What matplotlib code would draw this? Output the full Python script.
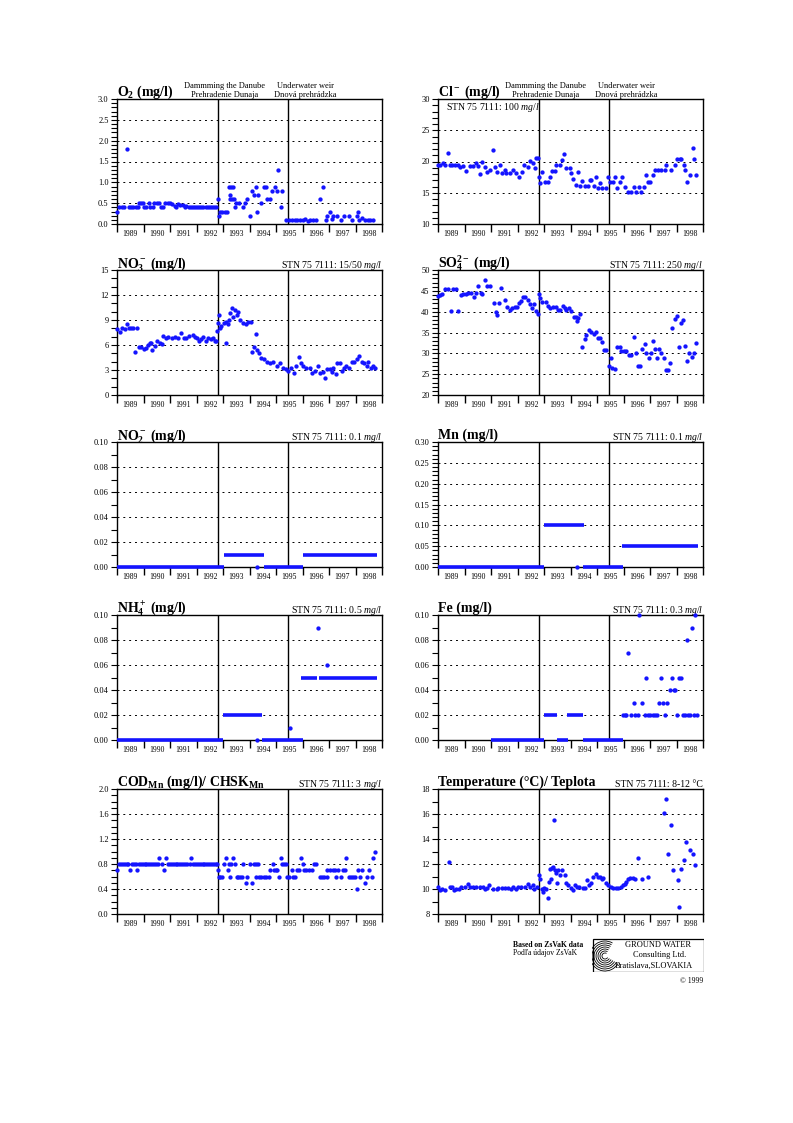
import matplotlib
matplotlib.use("Agg")
import matplotlib.pyplot as plt
from matplotlib.ticker import MultipleLocator, FormatStrFormatter, FixedLocator, FixedFormatter, NullFormatter
from matplotlib.patches import Rectangle, Arc
import matplotlib.transforms as mtransforms

plt.rcParams['font.family'] = ['Liberation Serif', 'DejaVu Serif']
plt.rcParams['mathtext.fontset'] = 'custom'
plt.rcParams['mathtext.default'] = 'regular'
plt.rcParams['mathtext.rm'] = 'Liberation Serif'
plt.rcParams['mathtext.it'] = 'Liberation Serif:italic'

BLUE = '#1414ff'

# ---- data -------------------------------------------------------------
years = [1989, 1990, 1991, 1992, 1993, 1994, 1995, 1996, 1997, 1998]
dam_date = 1992.81
weir_date = 1995.46

o2_t = [1989.00, 1989.09, 1989.19, 1989.28, 1989.38, 1989.44, 1989.53, 1989.62, 1989.71, 1989.78,
        1989.84, 1989.91, 1989.97, 1990.03, 1990.10, 1990.19, 1990.25, 1990.35, 1990.41, 1990.50,
        1990.60, 1990.66, 1990.73, 1990.83, 1990.92, 1991.00, 1991.08, 1991.17, 1991.23, 1991.30,
        1991.38, 1991.48, 1991.55, 1991.62, 1991.70, 1991.78, 1991.86, 1991.94, 1992.02, 1992.10,
        1992.18, 1992.26, 1992.34, 1992.42, 1992.50, 1992.58, 1992.66, 1992.74, 1992.81, 1992.85,
        1992.90, 1992.97, 1993.06, 1993.15, 1993.21, 1993.25, 1993.27, 1993.31, 1993.35, 1993.39,
        1993.40, 1993.44, 1993.50, 1993.59, 1993.75, 1993.84, 1993.92, 1994.03, 1994.09, 1994.17,
        1994.26, 1994.27, 1994.32, 1994.45, 1994.54, 1994.61, 1994.67, 1994.76, 1994.85, 1994.95,
        1995.02, 1995.09, 1995.17, 1995.24, 1995.39, 1995.49, 1995.60, 1995.70, 1995.80, 1995.90,
        1996.00, 1996.09, 1996.22, 1996.30, 1996.40, 1996.50, 1996.65, 1996.78, 1996.87, 1996.93,
        1997.03, 1997.10, 1997.16, 1997.31, 1997.44, 1997.58, 1997.76, 1997.85, 1998.04, 1998.10,
        1998.15, 1998.25, 1998.34, 1998.46, 1998.55, 1998.65]
o2_v = [0.30, 0.40, 0.40, 0.40, 1.80, 0.40, 0.40, 0.40, 0.40, 0.40,
        0.50, 0.50, 0.50, 0.40, 0.40, 0.50, 0.40, 0.40, 0.50, 0.50,
        0.50, 0.40, 0.40, 0.50, 0.50, 0.50, 0.47, 0.43, 0.40, 0.47,
        0.45, 0.45, 0.42, 0.43, 0.41, 0.42, 0.42, 0.41, 0.42, 0.40,
        0.42, 0.41, 0.40, 0.42, 0.41, 0.42, 0.41, 0.42, 0.60, 0.20,
        0.30, 0.30, 0.30, 0.30, 0.90, 0.70, 0.60, 0.90, 0.60, 0.90,
        0.60, 0.40, 0.50, 0.50, 0.40, 0.50, 0.60, 0.20, 0.80, 0.70,
        0.90, 0.30, 0.70, 0.50, 0.90, 0.90, 0.60, 0.60, 0.80, 0.90,
        0.80, 1.30, 0.40, 0.80, 0.10, 0.10, 0.10, 0.10, 0.10, 0.10,
        0.10, 0.13, 0.07, 0.10, 0.10, 0.10, 0.60, 0.90, 0.10, 0.20,
        0.30, 0.12, 0.20, 0.20, 0.10, 0.20, 0.20, 0.10, 0.20, 0.30,
        0.10, 0.15, 0.10, 0.10, 0.10, 0.10]

cl_t = [1989.00, 1989.09, 1989.19, 1989.25, 1989.38, 1989.44, 1989.54, 1989.65, 1989.75, 1989.82,
        1989.94, 1990.07, 1990.19, 1990.32, 1990.42, 1990.51, 1990.60, 1990.67, 1990.76, 1990.85,
        1990.95, 1991.09, 1991.16, 1991.23, 1991.33, 1991.40, 1991.53, 1991.58, 1991.70, 1991.83,
        1991.96, 1992.06, 1992.16, 1992.23, 1992.38, 1992.48, 1992.58, 1992.66, 1992.71, 1992.77,
        1992.81, 1992.84, 1992.94, 1993.04, 1993.16, 1993.21, 1993.31, 1993.42, 1993.47, 1993.59,
        1993.67, 1993.74, 1993.84, 1993.97, 1994.03, 1994.09, 1994.19, 1994.28, 1994.35, 1994.45,
        1994.53, 1994.66, 1994.72, 1994.79, 1994.87, 1994.95, 1995.04, 1995.10, 1995.20, 1995.33,
        1995.42, 1995.50, 1995.60, 1995.67, 1995.75, 1995.86, 1995.96, 1996.04, 1996.17, 1996.30,
        1996.40, 1996.48, 1996.58, 1996.67, 1996.76, 1996.84, 1996.92, 1997.01, 1997.11, 1997.18,
        1997.30, 1997.43, 1997.55, 1997.62, 1997.81, 1997.93, 1998.02, 1998.12, 1998.18, 1998.27,
        1998.33, 1998.40, 1998.50, 1998.62, 1998.67, 1998.75]
cl_v = [19.5, 19.5, 19.7, 19.5, 21.3, 19.5, 19.5, 19.5, 19.5, 19.2,
        19.3, 18.5, 19.3, 19.3, 19.8, 19.3, 18.0, 20.0, 19.1, 18.4,
        18.7, 21.9, 19.1, 18.4, 19.5, 18.1, 18.6, 18.1, 18.1, 18.6,
        18.1, 17.5, 18.4, 19.4, 19.2, 20.1, 19.7, 19.0, 20.6, 20.5,
        17.5, 16.6, 18.4, 16.7, 16.7, 17.6, 18.5, 18.5, 19.5, 19.4,
        20.2, 21.2, 18.9, 18.9, 18.1, 17.2, 16.3, 18.4, 16.1, 16.9,
        16.1, 16.1, 17.0, 17.0, 16.1, 17.5, 15.7, 16.5, 15.7, 15.7,
        17.6, 16.8, 16.8, 17.6, 15.8, 16.8, 17.6, 16.0, 15.2, 15.2,
        16.0, 15.2, 16.0, 15.2, 16.0, 17.8, 16.8, 16.8, 17.8, 18.6,
        18.6, 18.6, 18.6, 19.5, 18.6, 19.5, 20.4, 20.4, 20.4, 19.5,
        18.6, 16.8, 17.8, 22.2, 20.4, 17.8]

no3_t = [1989.00, 1989.10, 1989.20, 1989.29, 1989.39, 1989.45, 1989.53, 1989.60, 1989.69, 1989.76,
         1989.82, 1989.92, 1990.01, 1990.08, 1990.17, 1990.23, 1990.30, 1990.33, 1990.42, 1990.51,
         1990.61, 1990.70, 1990.74, 1990.84, 1990.93, 1991.09, 1991.18, 1991.30, 1991.41, 1991.52,
         1991.59, 1991.72, 1991.85, 1991.93, 1992.02, 1992.10, 1992.16, 1992.25, 1992.35, 1992.44,
         1992.53, 1992.63, 1992.69, 1992.75, 1992.79, 1992.82, 1992.85, 1992.88, 1992.94, 1993.03,
         1993.11, 1993.13, 1993.19, 1993.23, 1993.28, 1993.35, 1993.38, 1993.45, 1993.51, 1993.57,
         1993.63, 1993.76, 1993.86, 1993.95, 1994.04, 1994.11, 1994.18, 1994.26, 1994.29, 1994.34,
         1994.45, 1994.55, 1994.67, 1994.77, 1994.89, 1995.02, 1995.15, 1995.25, 1995.37, 1995.46,
         1995.55, 1995.68, 1995.75, 1995.85, 1995.93, 1996.03, 1996.15, 1996.28, 1996.37, 1996.47,
         1996.57, 1996.66, 1996.76, 1996.86, 1996.93, 1997.04, 1997.10, 1997.16, 1997.26, 1997.31,
         1997.41, 1997.50, 1997.56, 1997.66, 1997.77, 1997.85, 1997.94, 1998.04, 1998.13, 1998.23,
         1998.32, 1998.42, 1998.48, 1998.57, 1998.65, 1998.74]
no3_v = [7.9, 7.6, 8.1, 7.9, 8.5, 8.1, 8.1, 8.1, 5.2, 8.1,
         5.8, 5.8, 5.5, 5.7, 6.0, 6.2, 6.3, 5.4, 5.9, 6.5,
         6.3, 6.1, 7.1, 6.9, 7.0, 6.9, 7.0, 6.9, 7.4, 6.9,
         6.9, 7.1, 7.2, 7.0, 6.8, 6.5, 6.7, 7.0, 6.5, 6.8,
         6.7, 6.8, 6.5, 6.5, 7.7, 8.6, 9.6, 8.0, 8.3, 8.6,
         6.2, 8.8, 8.5, 9.0, 9.8, 10.4, 9.4, 10.2, 9.6, 10.0,
         9.0, 8.6, 8.5, 8.8, 8.8, 5.2, 5.8, 7.3, 5.4, 5.1,
         4.4, 4.3, 4.0, 3.9, 4.0, 3.5, 3.9, 3.3, 3.1, 2.9,
         3.3, 2.7, 3.5, 4.6, 3.9, 3.5, 3.3, 3.3, 2.7, 2.9,
         3.5, 2.7, 2.8, 2.0, 3.1, 3.1, 2.8, 3.3, 2.5, 3.8,
         3.9, 2.9, 3.3, 3.5, 3.3, 4.0, 4.0, 4.3, 4.7, 4.0,
         3.8, 3.5, 4.0, 3.3, 3.5, 3.3]

so4_t = [1989.00, 1989.09, 1989.16, 1989.25, 1989.38, 1989.50, 1989.57, 1989.69, 1989.75, 1989.86,
         1989.94, 1990.04, 1990.13, 1990.26, 1990.35, 1990.45, 1990.52, 1990.61, 1990.67, 1990.76,
         1990.85, 1990.95, 1991.10, 1991.18, 1991.23, 1991.30, 1991.39, 1991.53, 1991.60, 1991.70,
         1991.81, 1991.89, 1991.98, 1992.06, 1992.13, 1992.21, 1992.30, 1992.40, 1992.48, 1992.56,
         1992.64, 1992.71, 1992.79, 1992.81, 1992.84, 1992.94, 1993.06, 1993.15, 1993.24, 1993.34,
         1993.44, 1993.53, 1993.62, 1993.72, 1993.78, 1993.84, 1993.94, 1994.03, 1994.12, 1994.19,
         1994.25, 1994.28, 1994.35, 1994.45, 1994.53, 1994.60, 1994.69, 1994.79, 1994.89, 1994.97,
         1995.04, 1995.13, 1995.19, 1995.26, 1995.35, 1995.44, 1995.52, 1995.58, 1995.67, 1995.75,
         1995.86, 1995.92, 1996.01, 1996.11, 1996.21, 1996.30, 1996.38, 1996.46, 1996.55, 1996.61,
         1996.70, 1996.80, 1996.86, 1996.95, 1997.05, 1997.11, 1997.18, 1997.26, 1997.34, 1997.43,
         1997.52, 1997.59, 1997.68, 1997.77, 1997.84, 1997.93, 1998.02, 1998.08, 1998.16, 1998.25,
         1998.33, 1998.41, 1998.47, 1998.60, 1998.67, 1998.75]
so4_v = [43.8, 44.0, 44.2, 45.4, 45.4, 40.2, 45.4, 45.4, 40.2, 44.0,
         44.2, 44.2, 44.6, 44.6, 43.6, 44.6, 46.2, 44.6, 44.2, 47.6,
         46.2, 46.2, 42.0, 40.0, 39.2, 42.2, 45.8, 42.8, 41.2, 40.4,
         41.0, 41.2, 41.2, 42.0, 42.6, 43.6, 43.6, 42.8, 41.8, 41.0,
         41.8, 40.2, 39.4, 44.2, 43.4, 42.4, 42.4, 41.4, 41.0, 41.2,
         41.2, 40.4, 40.4, 41.4, 40.8, 40.4, 41.0, 40.2, 38.8, 38.8,
         37.8, 38.4, 39.4, 31.6, 33.4, 34.4, 35.6, 35.2, 34.6, 35.2,
         33.8, 33.8, 32.8, 30.8, 30.8, 27.0, 29.0, 26.6, 26.2, 31.6,
         31.6, 30.6, 30.6, 30.6, 29.6, 29.6, 34.0, 30.2, 27.0, 27.0,
         31.0, 32.2, 30.0, 29.0, 30.0, 33.0, 31.0, 29.0, 31.0, 30.2,
         28.8, 26.0, 26.0, 27.8, 36.2, 38.2, 39.0, 31.6, 37.2, 38.0,
         31.8, 28.2, 30.0, 29.2, 30.0, 32.6]

# step-like series: constant runs (start, end, value) plus single samples
no2_run_start = [1989.00, 1993.02, 1994.53, 1996.00]
no2_run_end = [1993.02, 1994.53, 1996.00, 1998.80]
no2_run_val = [0.00, 0.01, 0.00, 0.01]
no2_t = [1994.29]
no2_v = [0.00]

mn_run_start = [1989.00, 1993.00, 1994.47, 1995.96]
mn_run_end = [1993.00, 1994.51, 1995.98, 1998.81]
mn_run_val = [0.00, 0.10, 0.00, 0.05]
mn_t = [1994.26]
mn_v = [0.00]

nh4_run_start = [1989.00, 1993.00, 1994.49, 1995.96, 1996.64]
nh4_run_end = [1993.00, 1994.49, 1996.00, 1996.55, 1998.80]
nh4_run_val = [0.00, 0.02, 0.00, 0.05, 0.05]
nh4_t = [1994.27, 1995.52, 1996.58, 1996.92]
nh4_v = [0.00, 0.01, 0.09, 0.06]

fe_run_start = [1991.00, 1992.99, 1993.49, 1993.88, 1994.47]
fe_run_end = [1992.99, 1993.49, 1993.91, 1994.47, 1995.98]
fe_run_val = [0.00, 0.02, 0.00, 0.02, 0.00]
fe_t = [1995.98, 1996.04, 1996.11, 1996.17, 1996.27, 1996.38, 1996.45, 1996.53, 1996.58, 1996.69,
        1996.80, 1996.86, 1996.92, 1997.01, 1997.11, 1997.19, 1997.26, 1997.34, 1997.43, 1997.49,
        1997.58, 1997.65, 1997.77, 1997.84, 1997.89, 1997.94, 1998.03, 1998.08, 1998.18, 1998.25,
        1998.32, 1998.41, 1998.45, 1998.52, 1998.60, 1998.67, 1998.70, 1998.76]
fe_v = [0.02, 0.02, 0.02, 0.07, 0.02, 0.03, 0.02, 0.02, 0.10, 0.03,
        0.02, 0.05, 0.02, 0.02, 0.02, 0.02, 0.02, 0.03, 0.05, 0.03,
        0.02, 0.03, 0.04, 0.05, 0.04, 0.04, 0.02, 0.05, 0.05, 0.02,
        0.02, 0.08, 0.02, 0.02, 0.09, 0.02, 0.10, 0.02]

cod_t = [1989.00, 1989.08, 1989.15, 1989.22, 1989.30, 1989.36, 1989.43, 1989.50, 1989.58, 1989.65,
         1989.70, 1989.76, 1989.83, 1989.90, 1989.97, 1990.04, 1990.11, 1990.18, 1990.25, 1990.32,
         1990.40, 1990.47, 1990.54, 1990.59, 1990.68, 1990.76, 1990.84, 1990.92, 1991.00, 1991.07,
         1991.14, 1991.21, 1991.28, 1991.35, 1991.42, 1991.50, 1991.58, 1991.66, 1991.74, 1991.81,
         1991.88, 1991.95, 1992.02, 1992.09, 1992.16, 1992.23, 1992.30, 1992.37, 1992.44, 1992.51,
         1992.58, 1992.65, 1992.72, 1992.78, 1992.80, 1992.85, 1992.90, 1992.96, 1993.03, 1993.13,
         1993.19, 1993.23, 1993.28, 1993.32, 1993.38, 1993.45, 1993.51, 1993.57, 1993.63, 1993.70,
         1993.76, 1993.85, 1993.92, 1994.01, 1994.10, 1994.16, 1994.24, 1994.33, 1994.26, 1994.37,
         1994.45, 1994.54, 1994.64, 1994.72, 1994.77, 1994.87, 1994.92, 1994.99, 1995.05, 1995.11,
         1995.17, 1995.23, 1995.30, 1995.37, 1995.42, 1995.50, 1995.59, 1995.65, 1995.71, 1995.78,
         1995.85, 1995.94, 1996.00, 1996.05, 1996.15, 1996.25, 1996.34, 1996.44, 1996.51, 1996.66,
         1996.75, 1996.83, 1996.91, 1996.93, 1997.04, 1997.14, 1997.22, 1997.26, 1997.35, 1997.44,
         1997.54, 1997.60, 1997.66, 1997.74, 1997.82, 1997.89, 1997.97, 1998.04, 1998.09, 1998.17,
         1998.26, 1998.35, 1998.42, 1998.50, 1998.61, 1998.67, 1998.75]
cod_v = [0.7, 0.8, 0.8, 0.8, 0.8, 0.8, 0.8, 0.7, 0.8, 0.8,
         0.8, 0.7, 0.8, 0.8, 0.8, 0.8, 0.8, 0.8, 0.8, 0.8,
         0.8, 0.8, 0.8, 0.9, 0.8, 0.7, 0.9, 0.8, 0.8, 0.8,
         0.8, 0.8, 0.8, 0.8, 0.8, 0.8, 0.8, 0.8, 0.8, 0.9,
         0.8, 0.8, 0.8, 0.8, 0.8, 0.8, 0.8, 0.8, 0.8, 0.8,
         0.8, 0.8, 0.8, 0.8, 0.7, 0.6, 0.6, 0.6, 0.8, 0.9,
         0.7, 0.8, 0.6, 0.8, 0.9, 0.8, 0.6, 0.6, 0.6, 0.6,
         0.8, 0.5, 0.6, 0.8, 0.5, 0.8, 0.8, 0.8, 0.6, 0.6,
         0.6, 0.6, 0.6, 0.6, 0.7, 0.8, 0.7, 0.7, 0.7, 0.6,
         0.9, 0.8, 0.8, 0.8, 0.6, 0.6, 0.7, 0.6, 0.6, 0.7,
         0.7, 0.9, 0.8, 0.7, 0.7, 0.7, 0.7, 0.8, 0.8, 0.6,
         0.6, 0.6, 0.6, 0.7, 0.7, 0.7, 0.7, 0.6, 0.7, 0.6,
         0.7, 0.7, 0.9, 0.6, 0.6, 0.6, 0.6, 0.4, 0.7, 0.6,
         0.7, 0.5, 0.6, 0.7, 0.6, 0.9, 1.0]

temp_t = [1989.00, 1989.09, 1989.16, 1989.25, 1989.40, 1989.44, 1989.54, 1989.59, 1989.69, 1989.79,
          1989.88, 1990.01, 1990.13, 1990.20, 1990.32, 1990.45, 1990.58, 1990.70, 1990.77, 1990.85,
          1990.93, 1991.08, 1991.21, 1991.27, 1991.40, 1991.52, 1991.65, 1991.77, 1991.84, 1991.94,
          1992.03, 1992.15, 1992.28, 1992.40, 1992.49, 1992.57, 1992.63, 1992.72, 1992.82, 1992.85,
          1992.91, 1992.95, 1993.00, 1993.07, 1993.14, 1993.20, 1993.22, 1993.26, 1993.29, 1993.33,
          1993.36, 1993.40, 1993.45, 1993.48, 1993.54, 1993.60, 1993.69, 1993.78, 1993.83, 1993.92,
          1994.02, 1994.11, 1994.17, 1994.23, 1994.33, 1994.46, 1994.55, 1994.61, 1994.70, 1994.78,
          1994.86, 1994.96, 1995.03, 1995.12, 1995.18, 1995.24, 1995.34, 1995.43, 1995.52, 1995.62,
          1995.72, 1995.81, 1995.90, 1995.97, 1996.04, 1996.10, 1996.18, 1996.25, 1996.34, 1996.44,
          1996.53, 1996.71, 1996.94, 1997.51, 1997.60, 1997.68, 1997.79, 1997.86, 1998.05, 1998.09,
          1998.18, 1998.27, 1998.36, 1998.50, 1998.62, 1998.71]
temp_v = [10.2, 9.9, 10.0, 9.9, 12.2, 10.2, 10.2, 9.9, 10.0, 10.0,
          10.2, 10.2, 10.4, 10.2, 10.2, 10.2, 10.2, 10.2, 10.0, 10.1,
          10.3, 10.0, 10.0, 10.1, 10.1, 10.1, 10.1, 10.0, 10.2, 10.0,
          10.2, 10.2, 10.2, 10.4, 10.2, 10.3, 10.0, 10.2, 11.1, 10.8,
          10.0, 9.8, 10.1, 10.0, 9.3, 10.6, 11.6, 10.8, 11.7, 11.8,
          15.5, 11.5, 11.3, 10.5, 11.5, 11.1, 11.5, 11.1, 10.5, 10.3,
          10.1, 9.9, 10.3, 10.2, 10.2, 10.1, 10.1, 10.7, 10.3, 10.5,
          11.0, 11.2, 11.0, 11.0, 10.8, 10.9, 10.5, 10.3, 10.2, 10.1,
          10.1, 10.1, 10.2, 10.3, 10.4, 10.6, 10.8, 10.9, 10.9, 10.8,
          12.5, 10.8, 11.0, 16.1, 17.2, 12.8, 15.1, 11.5, 10.7, 8.6,
          11.6, 12.3, 13.8, 13.1, 12.8, 11.9]


# ---- layout helpers ----------------------------------------------------
W, H = 793, 1123
fig = plt.figure(figsize=(W / 100, H / 100), dpi=100)

col_x = [117, 438]
col_w = 265
row_top = [99, 270, 442, 615, 789]
row_h = 125


def make_ax(row, col):
    left = col_x[col] / W
    bottom = 1 - (row_top[row] + row_h) / H
    return fig.add_axes([left, bottom, col_w / W, row_h / H])


def setup(ax, title, ylim, major, minor, fmt, norm=None, header=False):
    ax.set_xlim(1989, 1999)
    ax.set_ylim(*ylim)
    ax.xaxis.set_major_locator(MultipleLocator(1))
    ax.xaxis.set_major_formatter(NullFormatter())
    ax.xaxis.set_minor_locator(FixedLocator([y + 0.5 for y in years]))
    ax.xaxis.set_minor_formatter(FixedFormatter([str(y) for y in years]))
    ax.tick_params(axis='x', which='major', length=6, width=1, direction='out')
    ax.tick_params(axis='x', which='minor', length=0, labelsize=5.5, pad=4)
    ax.yaxis.set_major_locator(MultipleLocator(major))
    ax.yaxis.set_minor_locator(MultipleLocator(minor))
    ax.yaxis.set_major_formatter(FormatStrFormatter(fmt))
    ax.tick_params(axis='y', which='both', length=4, width=0.8, direction='out',
                   labelsize=6, pad=2)
    ax.grid(axis='y', which='major', color='black', linestyle=(0, (2, 4)), linewidth=0.7)
    for s in ax.spines.values():
        s.set_linewidth(1)
    ax.axvline(dam_date, color='black', lw=1)
    ax.axvline(weir_date, color='black', lw=1)
    ax.text(0.0, 1.022, title, transform=ax.transAxes, fontsize=10, fontweight='bold',
            ha='left', va='baseline')
    if norm is not None:
        ax.text(1.0, 1.016, norm, transform=ax.transAxes, fontsize=7,
                ha='right', va='baseline')
    if header:
        tr = mtransforms.blended_transform_factory(ax.transData, ax.transAxes)
        ax.text(dam_date + 0.25, 1.10, "Dammming the Danube", transform=tr, fontsize=6,
                ha='center', va='center')
        ax.text(dam_date + 0.25, 1.03, "Prehradenie Dunaja", transform=tr, fontsize=6,
                ha='center', va='center')
        ax.text(weir_date + 0.66, 1.10, "Underwater weir", transform=tr, fontsize=6,
                ha='center', va='center')
        ax.text(weir_date + 0.66, 1.03, "Dnová prehrádzka", transform=tr, fontsize=6,
                ha='center', va='center')


def dots(ax, t, v):
    ax.plot(t, v, linestyle='none', marker='o', ms=3.1, mew=0, color=BLUE,
            clip_on=False, zorder=3)


def runs(ax, start, end, val):
    ax.hlines(val, start, end, color=BLUE, lw=2.6, zorder=3, clip_on=False)


# ---- panels ------------------------------------------------------------
ax = make_ax(0, 0)
setup(ax, "O$_2$ (mg/l)", (0, 3), 0.5, 0.1, '%.1f', header=True)
dots(ax, o2_t, o2_v)

ax = make_ax(0, 1)
setup(ax, "Cl$^-$ (mg/l)", (10, 30), 5, 1, '%d', header=True)
ax.text(0.03, 0.935, "STN 75 7111: 100 $\\it{mg/l}$", transform=ax.transAxes,
        fontsize=7, ha='left', va='center')
dots(ax, cl_t, cl_v)

ax = make_ax(1, 0)
setup(ax, "NO$_3^-$ (mg/l)", (0, 15), 3, 1, '%d', norm="STN 75 7111: 15/50 $\\it{mg/l}$")
dots(ax, no3_t, no3_v)

ax = make_ax(1, 1)
setup(ax, "SO$_4^{2-}$ (mg/l)", (20, 50), 5, 1, '%d', norm="STN 75 7111: 250 $\\it{mg/l}$")
dots(ax, so4_t, so4_v)

ax = make_ax(2, 0)
setup(ax, "NO$_2^-$ (mg/l)", (0, 0.1), 0.02, 0.01, '%.2f', norm="STN 75 7111: 0.1 $\\it{mg/l}$")
runs(ax, no2_run_start, no2_run_end, no2_run_val)
dots(ax, no2_t, no2_v)

ax = make_ax(2, 1)
setup(ax, "Mn (mg/l)", (0, 0.3), 0.05, 0.01, '%.2f', norm="STN 75 7111: 0.1 $\\it{mg/l}$")
runs(ax, mn_run_start, mn_run_end, mn_run_val)
dots(ax, mn_t, mn_v)

ax = make_ax(3, 0)
setup(ax, "NH$_4^+$ (mg/l)", (0, 0.1), 0.02, 0.01, '%.2f', norm="STN 75 7111: 0.5 $\\it{mg/l}$")
runs(ax, nh4_run_start, nh4_run_end, nh4_run_val)
dots(ax, nh4_t, nh4_v)

ax = make_ax(3, 1)
setup(ax, "Fe (mg/l)", (0, 0.1), 0.02, 0.01, '%.2f', norm="STN 75 7111: 0.3 $\\it{mg/l}$")
runs(ax, fe_run_start, fe_run_end, fe_run_val)
dots(ax, fe_t, fe_v)

ax = make_ax(4, 0)
setup(ax, "COD$_{Mn}$ (mg/l)/ CHSK$_{Mn}$", (0, 2), 0.4, 0.1, '%.1f',
      norm="STN 75 7111: 3 $\\it{mg/l}$")
dots(ax, cod_t, cod_v)

ax = make_ax(4, 1)
setup(ax, "Temperature (°C)/ Teplota", (8, 18), 2, 1, '%d', norm="STN 75 7111: 8-12 °C")
dots(ax, temp_t, temp_v)

# ---- credits and logo --------------------------------------------------
fig.text(513 / W, 1 - 945 / H, "Based on ZsVaK data", fontsize=5.5, fontweight='bold',
         ha='left', va='center')
fig.text(513 / W, 1 - 953 / H, "Podľa údajov ZsVaK", fontsize=5.5, ha='left', va='center')
fig.text(703 / W, 1 - 981 / H, "© 1999", fontsize=5.5, ha='right', va='center')

bx0, by0, bw, bh = 592, 938, 112, 34
lax = fig.add_axes([bx0 / W, 1 - (by0 + bh) / H, bw / W, bh / H])
lax.set_xlim(0, bw)
lax.set_ylim(0, bh)
lax.axis('off')
lax.add_patch(Rectangle((0.5, 0.5), bw - 1, bh - 1, fill=False, lw=0.9, ec='black'))
for r in range(3, 16, 2):
    lax.add_patch(Arc((13, 16), 2 * r, 2 * r, theta1=60, theta2=330, lw=0.6, color='black'))
lax.text(66, 27, "GROUND WATER", fontsize=6, ha='center', va='center')
lax.text(68, 17, "Consulting Ltd.", fontsize=6, ha='center', va='center')
lax.text(62, 6, "Bratislava,SLOVAKIA", fontsize=6, ha='center', va='center')

fig.savefig("out.png", dpi=100)
